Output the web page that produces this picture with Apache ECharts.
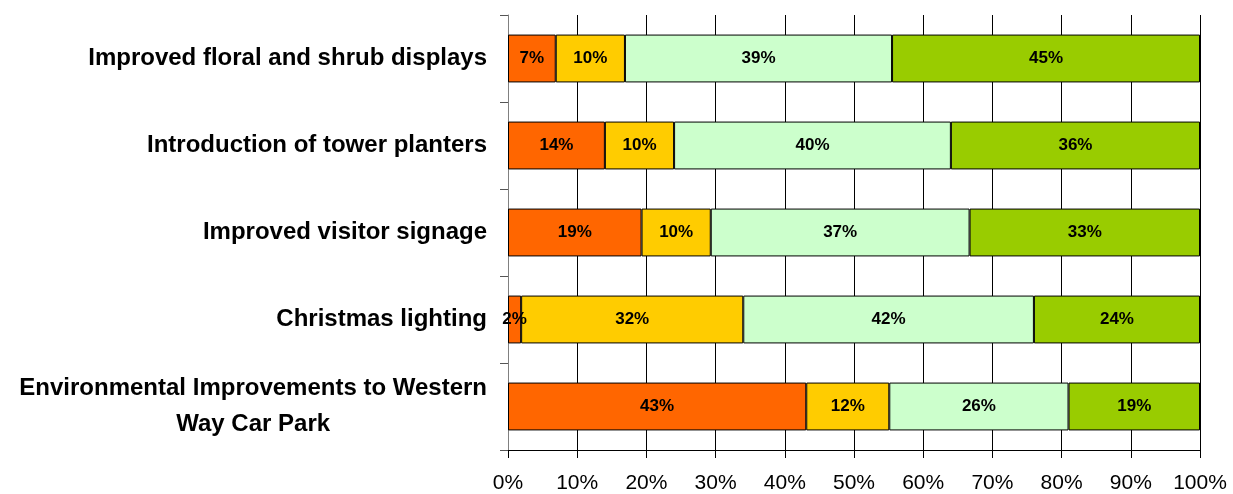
<!DOCTYPE html>
<html>
<head>
<meta charset="utf-8">
<script src="https://cdn.jsdelivr.net/npm/echarts@6/dist/echarts.min.js"></script>
<style>
html,body{margin:0;padding:0;background:#fff;}
#chart{width:1233px;height:494px;}
</style>
</head>
<body>
<div id="chart"></div>
<script>
const categories = [
  "Improved floral and shrub displays",
  "Introduction of tower planters",
  "Improved visitor signage",
  "Christmas lighting",
  "Environmental Improvements to Western\nWay Car Park"
];
const seriesNames = ["Series 1", "Series 2", "Series 3", "Series 4"];
const s1 = [6.9, 14.0, 19.3, 1.9, 43.1];
const s2 = [10.0, 10.0, 10.0, 32.1, 12.0];
const s3 = [38.6, 40.0, 37.4, 42.0, 25.9];
const s4 = [44.5, 36.0, 33.3, 24.0, 19.0];
const colors = ["#FF6600", "#FFCC00", "#CCFFCC", "#99CC00"];
const xTicks = [0, 10, 20, 30, 40, 50, 60, 70, 80, 90, 100];

const chart = echarts.init(document.getElementById('chart'), null, {renderer: 'canvas'});
const FONT = "Liberation Sans, Arial, sans-serif";
const values = [s1, s2, s3, s4];
const series = values.map((arr, i) => ({
  name: seriesNames[i],
  type: 'bar',
  stack: 'total',
  barCategoryGap: '45%',
  data: arr,
  itemStyle: { color: colors[i], borderColor: '#000', borderWidth: 1 },
  label: {
    show: true,
    position: 'inside',
    color: '#000',
    fontFamily: FONT,
    fontWeight: 'bold',
    fontSize: 17,
    formatter: p => Math.round(p.value) + '%'
  },
  emphasis: { disabled: true }
}));

chart.setOption({
  animation: false,
  backgroundColor: '#fff',
  grid: { left: 508, right: 33, top: 15, bottom: 42, containLabel: false },
  xAxis: {
    type: 'value',
    min: xTicks[0],
    max: xTicks[xTicks.length - 1],
    interval: 10,
    axisLine: { show: true, lineStyle: { color: '#000', width: 1 } },
    axisTick: { show: true, inside: false, length: 8, lineStyle: { color: '#000' } },
    splitLine: { show: true, lineStyle: { color: '#000', width: 1 } },
    axisLabel: {
      color: '#000', fontFamily: FONT, fontSize: 21, margin: 23,
      formatter: v => v + '%'
    }
  },
  yAxis: {
    type: 'category',
    inverse: true,
    data: categories,
    axisLine: { show: true, lineStyle: { color: '#808080', width: 1 } },
    axisTick: { show: true, inside: false, length: 8, lineStyle: { color: '#555' } },
    splitLine: { show: false },
    axisLabel: {
      margin: 21,
      align: 'right',
      formatter: v => v.split('\n').map(l => '{c|' + l + '}').join('\n'),
      rich: {
        c: { align: 'center', color: '#000', fontFamily: FONT, fontWeight: 'bold', fontSize: 24, lineHeight: 36 }
      }
    }
  },
  series: series
});
</script>
</body>
</html>
